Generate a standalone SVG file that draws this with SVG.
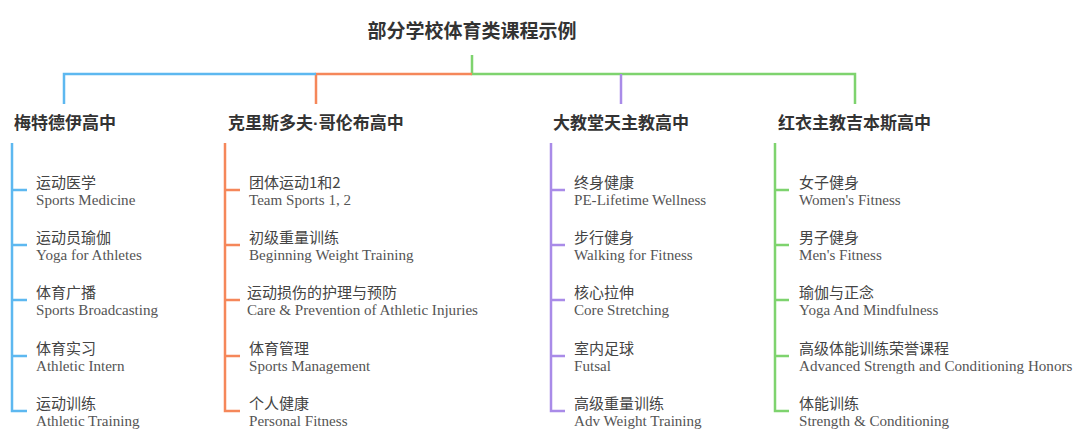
<svg xmlns="http://www.w3.org/2000/svg" width="1080" height="438" viewBox="0 0 1080 438">
<style>
.title{font-family:"Noto Sans CJK SC","Noto Sans",sans-serif;font-size:19px;font-weight:bold;fill:#333}
.head{font-family:"Noto Sans CJK SC","Noto Sans",sans-serif;font-size:17px;font-weight:bold;fill:#333}
.dot{font-family:"Liberation Sans",sans-serif}
.zh{font-family:"Noto Sans CJK SC","Noto Sans",sans-serif;font-size:15px;fill:#444}
.en{font-family:"Liberation Serif","Noto Sans CJK SC",serif;font-size:15.1px;fill:#555}
.ln{fill:none;stroke-width:2.5}
.b{stroke:#5DB8F0}.o{stroke:#F5875A}.p{stroke:#A98BE8}.g{stroke:#7ED36E}
</style>
<rect width="1080" height="438" fill="#ffffff"/>
<g id="connectors">
<path class="ln g" d="M472 55V74H855V104"/>
<path class="ln o" d="M472 74H316V104"/>
<path class="ln b" d="M316 74H64V104"/>
<path class="ln p" d="M621 74V104"/>
<path class="ln b" d="M12 143V411H27M12 190H27M12 245H27M12 300H27M12 356H27"/>
<path class="ln o" d="M225 143V411H240M225 190H240M225 245H240M225 300H240M225 356H240"/>
<path class="ln p" d="M551 143V411H565M551 190H565M551 245H565M551 300H565M551 356H565"/>
<path class="ln g" d="M775 143V411H789M775 190H789M775 245H789M775 300H789M775 356H789"/>
</g>
<g id="root"><text class="title" x="472" y="38" text-anchor="middle">部分学校体育类课程示例</text></g>
<g id="school1">
<text class="head" x="14" y="129">梅特德伊高中</text>
<text class="zh" x="36" y="188">运动医学</text><text class="en" x="36" y="205">Sports Medicine</text>
<text class="zh" x="36" y="243">运动员瑜伽</text><text class="en" x="36" y="260">Yoga for Athletes</text>
<text class="zh" x="36" y="298">体育广播</text><text class="en" x="36" y="315">Sports Broadcasting</text>
<text class="zh" x="36" y="354">体育实习</text><text class="en" x="36" y="371">Athletic Intern</text>
<text class="zh" x="36" y="409">运动训练</text><text class="en" x="36" y="426">Athletic Training</text>
</g>
<g id="school2">
<text class="head" x="228" y="129">克里斯多夫<tspan class="dot">·</tspan>哥伦布高中</text>
<text class="zh" x="249" y="188">团体运动1和2</text><text class="en" x="249" y="205">Team Sports 1, 2</text>
<text class="zh" x="249" y="243">初级重量训练</text><text class="en" x="249" y="260">Beginning Weight Training</text>
<text class="zh" x="247" y="298">运动损伤的护理与预防</text><text class="en" x="247" y="315">Care &amp; Prevention of Athletic Injuries</text>
<text class="zh" x="249" y="354">体育管理</text><text class="en" x="249" y="371">Sports Management</text>
<text class="zh" x="249" y="409">个人健康</text><text class="en" x="249" y="426">Personal Fitness</text>
</g>
<g id="school3">
<text class="head" x="553" y="129">大教堂天主教高中</text>
<text class="zh" x="574" y="188">终身健康</text><text class="en" x="574" y="205">PE-Lifetime Wellness</text>
<text class="zh" x="574" y="243">步行健身</text><text class="en" x="574" y="260">Walking for Fitness</text>
<text class="zh" x="574" y="298">核心拉伸</text><text class="en" x="574" y="315">Core Stretching</text>
<text class="zh" x="574" y="354">室内足球</text><text class="en" x="574" y="371">Futsal</text>
<text class="zh" x="574" y="409">高级重量训练</text><text class="en" x="574" y="426">Adv Weight Training</text>
</g>
<g id="school4">
<text class="head" x="778" y="129">红衣主教吉本斯高中</text>
<text class="zh" x="799" y="188">女子健身</text><text class="en" x="799" y="205">Women's Fitness</text>
<text class="zh" x="799" y="243">男子健身</text><text class="en" x="799" y="260">Men's Fitness</text>
<text class="zh" x="799" y="298">瑜伽与正念</text><text class="en" x="799" y="315">Yoga And Mindfulness</text>
<text class="zh" x="799" y="354">高级体能训练荣誉课程</text><text class="en" x="799" y="371">Advanced Strength and Conditioning Honors</text>
<text class="zh" x="799" y="409">体能训练</text><text class="en" x="799" y="426">Strength &amp; Conditioning</text>
</g>
</svg>
